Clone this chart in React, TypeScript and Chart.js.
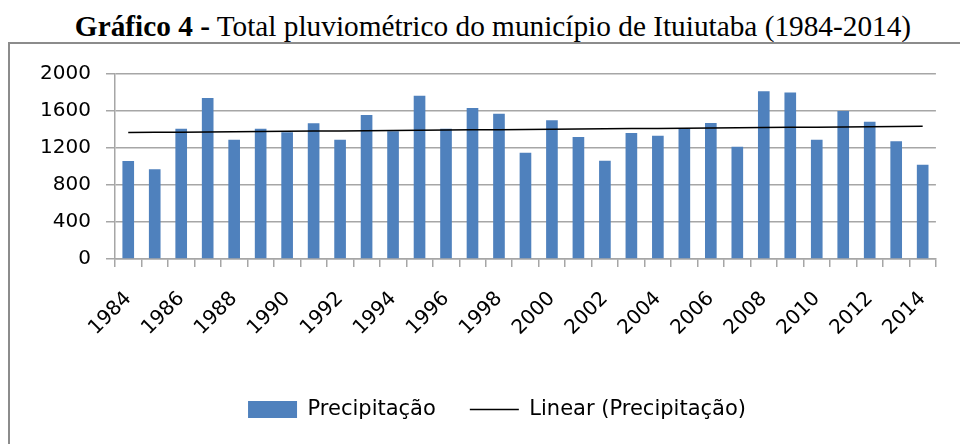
import React, { useEffect, useRef } from 'react';
import { Chart, registerables } from 'chart.js';

Chart.register(...registerables);

const years = [
  '1984', '1985', '1986', '1987', '1988', '1989', '1990', '1991', '1992', '1993',
  '1994', '1995', '1996', '1997', '1998', '1999', '2000', '2001', '2002', '2003',
  '2004', '2005', '2006', '2007', '2008', '2009', '2010', '2011', '2012', '2013', '2014',
];

const precipitation = [
  1059, 970, 1409, 1741, 1290, 1409, 1370, 1467, 1290, 1557,
  1381, 1766, 1409, 1633, 1571, 1150, 1499, 1319, 1063, 1362,
  1333, 1409, 1470, 1214, 1813, 1799, 1290, 1600, 1485, 1272, 1020,
];

const yTickValues = [0, 400, 800, 1200, 1600, 2000];

const seriesLabel = 'Precipitação';
const trendLabel = 'Linear (Precipitação)';

// Linear least-squares trendline of the precipitation series (as Excel's "Linear" trendline)
function linearTrend(values: number[]): number[] {
  const n = values.length;
  let sx = 0, sy = 0, sxx = 0, sxy = 0;
  values.forEach((v, i) => {
    sx += i; sy += v; sxx += i * i; sxy += i * v;
  });
  const slope = (n * sxy - sx * sy) / (n * sxx - sx * sx);
  const intercept = (sy - slope * sx) / n;
  return values.map((_, i) => intercept + slope * i);
}

const GRID = '#a6a6a6';
const FONT = 'DejaVu Sans';

// shifts the legend so that it is centred under the whole frame like the reference
const legendShift = {
  id: 'legendShift',
  afterLayout(chart: any) {
    if (chart.legend) {
      chart.legend.left += 28;
      chart.legend.right += 28;
    }
  },
};

export default function App() {
  const ref = useRef<HTMLCanvasElement | null>(null);

  useEffect(() => {
    if (!ref.current) return;
    const chart = new Chart(ref.current, {
      type: 'bar',
      data: {
        labels: years,
        datasets: [
          {
            type: 'bar',
            label: seriesLabel,
            data: precipitation,
            backgroundColor: '#4f81bd',
            borderWidth: 0,
            barPercentage: 0.44,
            categoryPercentage: 1.0,
            pointStyle: 'rect',
            order: 1,
          } as any,
          {
            type: 'line',
            label: trendLabel,
            data: linearTrend(precipitation),
            borderColor: '#000000',
            borderWidth: 1.5,
            pointRadius: 0,
            pointHoverRadius: 0,
            pointStyle: 'line',
            pointBorderColor: '#000000',
            pointBackgroundColor: '#000000',
            pointBorderWidth: 1.5,
            fill: false,
            tension: 0,
            order: 0,
          } as any,
        ],
      },
      options: {
        responsive: false,
        animation: false,
        devicePixelRatio: 1,
        layout: { padding: { left: 0, right: 22, top: 74, bottom: 14 } },
        plugins: {
          tooltip: { enabled: false },
          title: { display: false },
          legend: {
            position: 'bottom',
            labels: {
              usePointStyle: true,
              pointStyleWidth: 49,
              boxHeight: 17,
              padding: 34,
              color: '#000000',
              font: { family: FONT, size: 21 },
              sort: (a: any, b: any) => a.datasetIndex - b.datasetIndex,
            },
          },
        },
        scales: {
          x: {
            afterFit: (scale: any) => { scale.height = 106; },
            grid: {
              display: true,
              drawOnChartArea: false,
              drawTicks: true,
              tickLength: 8,
              color: GRID,
              lineWidth: 1.5,
              offset: true,
            },
            border: { display: true, color: GRID, width: 1.5 },
            ticks: {
              autoSkip: false,
              minRotation: 45,
              maxRotation: 45,
              padding: 20,
              color: '#000000',
              font: { family: FONT, size: 20 },
              callback: (_v: any, i: number) => (i % 2 === 0 ? years[i] : ''),
            },
          },
          y: {
            min: 0,
            max: 2000,
            afterFit: (scale: any) => { scale.width = 115; },
            afterBuildTicks: (scale: any) => {
              scale.ticks = yTickValues.map((v) => ({ value: v }));
            },
            grid: {
              color: GRID,
              lineWidth: 1.5,
              drawTicks: true,
              tickLength: 9,
            },
            border: { display: true, color: GRID, width: 1.5 },
            ticks: {
              padding: 15,
              color: '#000000',
              font: { family: FONT, size: 20 },
              callback: (v: any) => String(v),
            },
          },
        },
      },
      plugins: [legendShift],
    });
    return () => chart.destroy();
  }, []);

  return (
    <div
      style={{
        position: 'fixed',
        left: 0,
        top: 0,
        width: 960,
        height: 444,
        overflow: 'hidden',
        background: '#ffffff',
      }}
    >
      <div
        style={{
          position: 'absolute',
          left: 0,
          top: 9,
          width: 986,
          textAlign: 'center',
          fontFamily: '"Liberation Serif", "Times New Roman", serif',
          fontSize: 29.3,
          lineHeight: '34px',
          color: '#000000',
          whiteSpace: 'nowrap',
        }}
      >
        <b>Gráfico 4 -</b> Total pluviométrico do município de Ituiutaba (1984-2014)
      </div>
      <div
        style={{
          position: 'absolute',
          left: 8,
          top: 42,
          width: 1000,
          height: 500,
          borderLeft: '2px solid #8c8c8c',
          borderTop: '2px solid #8c8c8c',
        }}
      />
      <canvas
        ref={ref}
        width={960}
        height={444}
        style={{ position: 'absolute', left: 0, top: 0, width: 960, height: 444 }}
      />
    </div>
  );
}
